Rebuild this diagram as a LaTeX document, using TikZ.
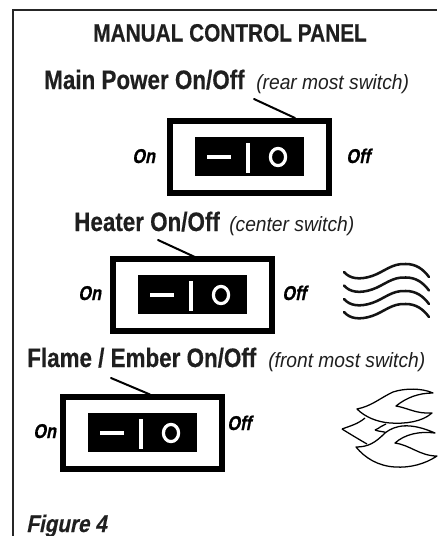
\documentclass[tikz,border=0pt]{standalone}
\usepackage{fontspec}
\setmainfont{Liberation Sans}
\newfontfamily\headfont[FakeStretch=0.84,FakeBold=0.4]{Liberation Sans}
\newfontfamily\titlefont[FakeStretch=0.83,FakeBold=0.3]{Liberation Sans}
\newfontfamily\notefont[FakeStretch=0.93]{Liberation Sans}
\newfontfamily\lblfont[FakeStretch=0.82,FakeBold=0.6,FakeSlant=0.2]{Liberation Sans}
\newfontfamily\figfont[FakeStretch=0.86,FakeBold=0.4,FakeSlant=0.2]{Liberation Sans}
\tikzset{
 px/.style={x=0.75pt,y=-0.75pt},
 ttl/.style={inner sep=0pt,anchor=base west,text=black!88,font=\titlefont\bfseries\fontsize{18.8}{19}\selectfont},
 head/.style={inner sep=0pt,anchor=base west,text=black!88,font=\headfont\bfseries\fontsize{20}{20}\selectfont},
 note/.style={inner sep=0pt,anchor=base west,text=black!88,font=\notefont\itshape\fontsize{15.5}{16}\selectfont},
 onoff/.style={inner sep=0pt,anchor=base west,font=\lblfont\bfseries\fontsize{15}{15}\selectfont},
 figlbl/.style={inner sep=0pt,anchor=base west,text=black!88,font=\figfont\bfseries\fontsize{18}{18}\selectfont},
 thin ink/.style={draw=black,line width=0.95pt,line join=round},
 ink/.style={draw=black,line width=1.5pt,line cap=round},
}
\newcommand{\swt}[2]{%
 \begin{scope}[shift={(#1,#2)}]
  \draw[black,line width=4.5pt] (0,0) rectangle (159,72);
  \fill[black] (24.5,16) rectangle (134,55);
  \draw[white,line width=3.2pt] (37,36) -- (61,36);
  \draw[white,line width=3.4pt] (78,22) -- (78,52);
  \draw[white,line width=2.4pt] (108,36) ellipse (7.6 and 8.6);
 \end{scope}}
\newcommand{\wave}[1]{%
 \draw[black!92,line width=1.9pt,line cap=round] (344,#1) .. controls (350,#1+7) and (360,#1+8) .. (372,#1+4) .. controls (384,#1) and (392,#1-9) .. (406,#1-8) .. controls (416,#1-8) and (423,#1-3) .. (429,#1+5);}
\begin{document}
\begin{tikzpicture}[px]
\useasboundingbox (0,0) rectangle (437,536);
\fill[white] (0,0) rectangle (437,536);
\draw[black!85,line width=1.5pt] (13,536) -- (13,9.5) -- (437,9.5);
\node[ttl] (t0) at (93,41.5) {MANUAL CONTROL PANEL};
\node[head] (t1) at (44,89) {Main Power On/Off};
\node[note] (n1) at (256,89) {(rear most switch)};
\swt{170}{121}
\coordinate (a1) at (254,99);
\coordinate (a1e) at (295,118);
\draw[ink] (a1) -- (a1e);
\node[onoff] (on1) at (132,163) {On};
\node[onoff] (of1) at (346,163) {Off};
\node[head] (t2) at (74,231) {Heater On/Off};
\node[note] (n2) at (229,231) {(center switch)};
\swt{113}{259}
\coordinate (a2) at (158,240);
\coordinate (a2e) at (197,258);
\draw[ink] (a2) -- (a2e);
\node[onoff] (on2) at (78,300) {On};
\node[onoff] (of2) at (282,300) {Off};
\wave{272}\wave{285.5}\wave{299}\wave{312}
\node[head] (t3) at (27,367) {Flame / Ember On/Off};
\node[note] (n3) at (268,367) {(front most switch)};
\swt{63}{397}
\coordinate (a3) at (111,378);
\coordinate (a3e) at (150,394.5);
\draw[ink] (a3) -- (a3e);
\node[onoff] (on3) at (33,438) {On};
\node[onoff] (of3) at (227,430) {Off};
% flames
\draw[thin ink] (342,429) .. controls (350,426) and (358,424) .. (365,418);
\draw[thin ink] (342,429) .. controls (350,434) and (360,440) .. (367,444);
\draw[thin ink,fill=white] (357,409) .. controls (372,406) and (380,398) .. (393,392) .. controls (405,388) and (422,388) .. (433,393) .. controls (418,393) and (406,398) .. (396,406) .. controls (408,408) and (416,414) .. (432,413) .. controls (422,422) and (405,424) .. (390,423) .. controls (377,422) and (365,417) .. (357,409) -- cycle;
\draw[thin ink] (375,430) .. controls (380,428) and (382,425) .. (386,424);
\draw[thin ink] (375,430) .. controls (380,432) and (383,431) .. (387,433);
\draw[thin ink,fill=white] (356,447) .. controls (368,447) and (375,443) .. (385,433) .. controls (395,425) and (410,422) .. (435,433) .. controls (420,431) and (405,434) .. (395,443) .. controls (410,445) and (420,456) .. (437,456) .. controls (425,464) and (410,468) .. (395,467) .. controls (378,466) and (365,458) .. (356,447) -- cycle;
\node[figlbl] (fig) at (26,532) {Figure 4};
\end{tikzpicture}
\end{document}
